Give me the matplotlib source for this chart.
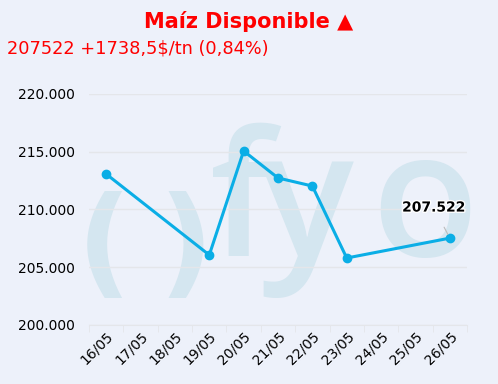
import numpy as np
import matplotlib.pyplot as plt
from matplotlib.ticker import FuncFormatter
import matplotlib.patheffects as pe

# fechas (eje de categorias) y precios
fechas = ['16/05', '17/05', '18/05', '19/05', '20/05', '21/05',
          '22/05', '23/05', '24/05', '25/05', '26/05']
precios = [213070, None, None, 206060, 215070, 212730,
           212030, 205800, None, None, 207522]
yticks = [200000, 205000, 210000, 215000, 220000]

titulo = 'Maíz Disponible ▲'
subtitulo = '207522 +1738,5$/tn (0,84%)'
etiqueta = '207.522'

bg = '#edf1fa'
azul = '#0aaee6'
marca = '#d4e6f0'
grilla = '#e4e6ea'

fig = plt.figure(figsize=(4.98, 3.84), dpi=100, facecolor=bg)
ax = fig.add_axes([89 / 498, 1 - 325 / 384, 378 / 498, 231 / 384])
ax.set_facecolor(bg)


def fx(px):
    return px / 498


def fy(py):
    return 1 - py / 384


# marca de agua (detras de la grilla)
ax.text(fx(104), fy(249), '(', fontsize=86, fontweight='bold', color=marca,
        ha='center', va='center', transform=fig.transFigure, zorder=0.1)
ax.text(fx(186), fy(249), ')', fontsize=86, fontweight='bold', color=marca,
        ha='center', va='center', transform=fig.transFigure, zorder=0.1)
for letra, px in [('f', 242), ('y', 306), ('o', 425)]:
    ax.text(fx(px), fy(256), letra, fontsize=126, fontweight='semibold', color=marca,
            family='Open Sans', ha='center', va='baseline',
            transform=fig.transFigure, zorder=0.1)

# serie (solo puntos con datos, unidos entre huecos)
xs = [i for i, v in enumerate(precios) if v is not None]
ys = [v for v in precios if v is not None]
ax.plot(xs, ys, color=azul, lw=2.2, marker='o', ms=6, zorder=3)

ax.set_xlim(-0.5, len(fechas) - 0.5)
ax.set_ylim(200000, 220000)
ax.set_yticks(yticks)
ax.yaxis.set_major_formatter(FuncFormatter(lambda v, p: f'{v:,.0f}'.replace(',', '.')))
ax.grid(axis='y', color=grilla, lw=1, zorder=0.5)
ax.set_axisbelow(True)

ax.set_xticks(range(len(fechas)))
ax.set_xticklabels(fechas, rotation=45, ha='right', rotation_mode='anchor', fontsize=10)
ax.set_xticks(np.arange(-0.5, len(fechas)), minor=True)
ax.tick_params(axis='x', which='major', length=0, pad=3)
ax.tick_params(axis='x', which='minor', length=5, color=grilla)
ax.tick_params(axis='y', length=0, labelsize=10, pad=10)

for s in ['top', 'right', 'left']:
    ax.spines[s].set_visible(False)
ax.spines['bottom'].set_color(grilla)

# etiqueta del ultimo dato
ax.annotate(etiqueta, xy=(xs[-1], ys[-1]), xytext=(-11.5, 22), textcoords='offset points',
            ha='center', va='center', fontsize=10, fontweight='bold', color='black',
            path_effects=[pe.withStroke(linewidth=2, foreground='white')],
            arrowprops=dict(arrowstyle='-', color='#bbbbbb', lw=0.8, shrinkA=8, shrinkB=3),
            zorder=4)

fig.text(0.5, fy(21), titulo, fontsize=15, fontweight='bold', color='#ff0000',
         ha='center', va='center')
fig.text(fx(7), fy(48), subtitulo, fontsize=12.8, color='#ff0000',
         ha='left', va='center')

fig.savefig('out.png', dpi=100, facecolor=bg)
